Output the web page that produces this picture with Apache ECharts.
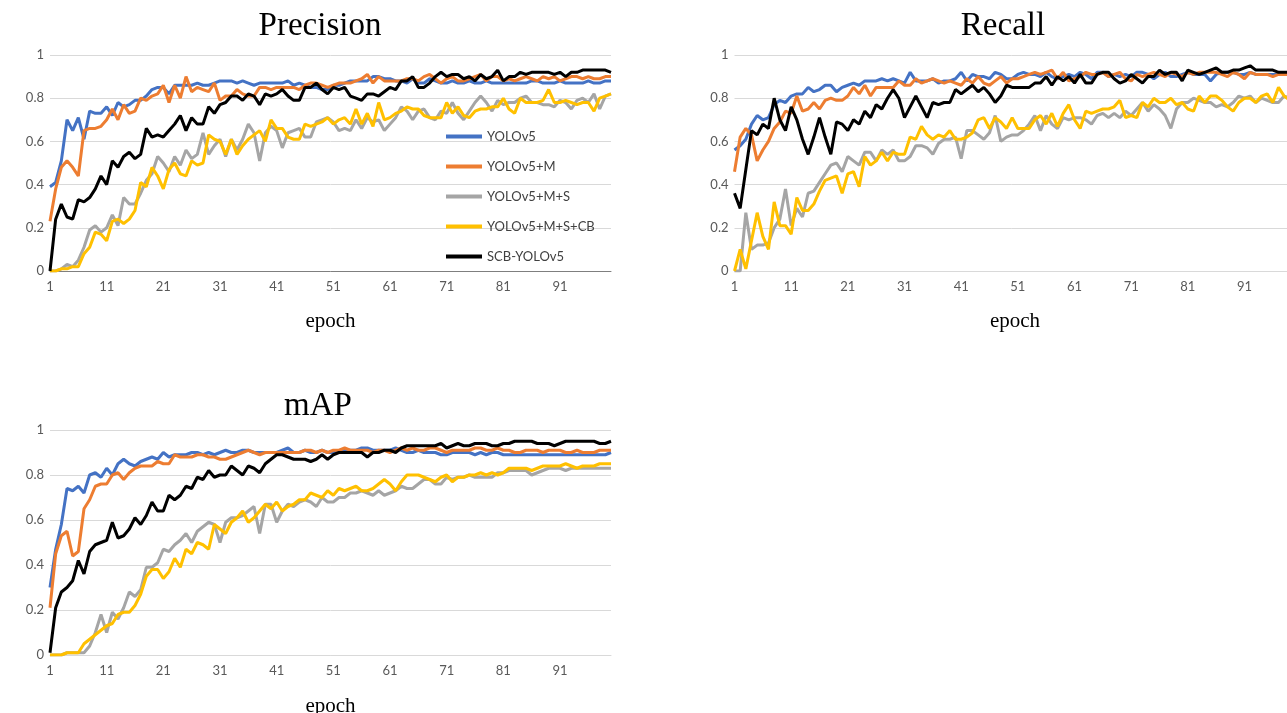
<!DOCTYPE html>
<html>
<head lang="en">
    <meta charset="UTF-8">
    <title>Precision / Recall / mAP</title>
    <script src="https://cdn.jsdelivr.net/npm/echarts@6/dist/echarts.min.js"></script>
    <style>
        html, body { margin: 0; padding: 0; background: #fff; }
        #main { width: 1287px; height: 713px; }
    </style>
</head>
<body>
<div id="main"></div>
<script>
    // epochs 1..100 on the category axis
    var epochs = [];
    for (var i = 1; i <= 100; i++) epochs.push(String(i));

    var seriesNames = ['YOLOv5', 'YOLOv5+M', 'YOLOv5+M+S', 'YOLOv5+M+S+CB', 'SCB-YOLOv5'];
    var seriesColors = ['#4472C4', '#ED7D31', '#A5A5A5', '#FFC000', '#000000'];

    // ---- Precision ----
    var precisionV5 = [
        0.39,0.41,0.51,0.70,0.65,0.71,0.61,0.74,0.73,0.73,
        0.76,0.72,0.78,0.76,0.77,0.79,0.79,0.81,0.84,0.85,
        0.85,0.82,0.86,0.86,0.86,0.86,0.87,0.86,0.86,0.87,
        0.88,0.88,0.88,0.87,0.88,0.87,0.86,0.87,0.87,0.87,
        0.87,0.87,0.88,0.86,0.87,0.86,0.85,0.85,0.84,0.84,
        0.86,0.86,0.87,0.88,0.88,0.88,0.88,0.90,0.90,0.89,
        0.89,0.88,0.88,0.87,0.89,0.87,0.87,0.89,0.88,0.87,
        0.87,0.88,0.87,0.87,0.88,0.87,0.87,0.88,0.87,0.87,
        0.87,0.87,0.87,0.87,0.87,0.88,0.88,0.87,0.87,0.87,
        0.88,0.87,0.87,0.87,0.87,0.88,0.87,0.87,0.88,0.88
    ];
    var precisionM = [
        0.23,0.38,0.48,0.51,0.48,0.44,0.65,0.66,0.66,0.67,
        0.70,0.75,0.70,0.77,0.73,0.74,0.80,0.79,0.81,0.82,
        0.86,0.78,0.86,0.80,0.90,0.83,0.85,0.84,0.83,0.87,
        0.79,0.81,0.81,0.84,0.82,0.81,0.81,0.85,0.85,0.84,
        0.85,0.85,0.85,0.85,0.84,0.86,0.87,0.87,0.86,0.85,
        0.86,0.87,0.87,0.87,0.88,0.89,0.91,0.87,0.90,0.88,
        0.88,0.88,0.88,0.89,0.89,0.88,0.90,0.91,0.89,0.87,
        0.89,0.90,0.88,0.88,0.89,0.90,0.91,0.88,0.90,0.90,
        0.88,0.89,0.88,0.89,0.90,0.89,0.88,0.90,0.89,0.90,
        0.88,0.89,0.90,0.90,0.89,0.90,0.89,0.89,0.90,0.90
    ];
    var precisionMS = [
        0.00,0.00,0.01,0.03,0.02,0.05,0.11,0.19,0.21,0.18,
        0.20,0.26,0.21,0.34,0.31,0.31,0.36,0.42,0.45,0.53,
        0.50,0.46,0.53,0.49,0.56,0.52,0.54,0.64,0.54,0.58,
        0.61,0.53,0.61,0.56,0.61,0.68,0.64,0.51,0.64,0.67,
        0.65,0.57,0.64,0.65,0.66,0.62,0.62,0.69,0.70,0.71,
        0.69,0.65,0.66,0.65,0.70,0.66,0.71,0.69,0.70,0.65,
        0.68,0.71,0.76,0.74,0.70,0.74,0.75,0.71,0.70,0.74,
        0.73,0.78,0.73,0.70,0.74,0.78,0.81,0.78,0.74,0.79,
        0.77,0.78,0.78,0.80,0.81,0.78,0.78,0.77,0.77,0.76,
        0.79,0.78,0.75,0.79,0.80,0.78,0.82,0.75,0.81,0.82
    ];
    var precisionMSCB = [
        0.00,0.00,0.01,0.01,0.02,0.02,0.08,0.11,0.18,0.17,
        0.14,0.23,0.24,0.22,0.24,0.28,0.41,0.39,0.48,0.44,
        0.38,0.47,0.50,0.45,0.44,0.51,0.49,0.50,0.63,0.61,
        0.60,0.54,0.61,0.54,0.58,0.61,0.63,0.65,0.60,0.70,
        0.66,0.66,0.62,0.61,0.61,0.68,0.67,0.68,0.69,0.71,
        0.68,0.70,0.71,0.68,0.75,0.68,0.73,0.67,0.78,0.70,
        0.71,0.73,0.74,0.76,0.75,0.75,0.72,0.71,0.71,0.71,
        0.78,0.73,0.76,0.72,0.71,0.74,0.75,0.75,0.76,0.76,
        0.80,0.75,0.73,0.80,0.78,0.78,0.78,0.79,0.84,0.78,
        0.78,0.79,0.78,0.77,0.78,0.78,0.74,0.80,0.81,0.82
    ];
    var precisionSCB = [
        0.00,0.24,0.31,0.25,0.24,0.33,0.32,0.34,0.38,0.44,
        0.40,0.51,0.48,0.53,0.55,0.52,0.54,0.66,0.62,0.63,
        0.62,0.65,0.68,0.72,0.65,0.71,0.68,0.68,0.76,0.73,
        0.77,0.78,0.81,0.81,0.79,0.82,0.81,0.77,0.82,0.81,
        0.82,0.84,0.81,0.79,0.79,0.85,0.85,0.87,0.84,0.82,
        0.85,0.84,0.85,0.81,0.80,0.79,0.82,0.82,0.81,0.83,
        0.85,0.84,0.88,0.88,0.90,0.85,0.85,0.87,0.90,0.92,
        0.90,0.91,0.91,0.89,0.90,0.88,0.91,0.89,0.90,0.93,
        0.88,0.90,0.90,0.92,0.91,0.92,0.92,0.92,0.92,0.91,
        0.92,0.90,0.92,0.92,0.93,0.93,0.93,0.93,0.93,0.92
    ];

    // ---- Recall ----
    var recallV5 = [
        0.56,0.58,0.61,0.68,0.72,0.70,0.71,0.77,0.79,0.78,
        0.81,0.82,0.82,0.85,0.83,0.84,0.86,0.86,0.83,0.85,
        0.86,0.87,0.86,0.88,0.88,0.88,0.89,0.88,0.89,0.88,
        0.87,0.92,0.88,0.88,0.88,0.89,0.87,0.88,0.88,0.89,
        0.92,0.88,0.91,0.90,0.90,0.89,0.92,0.91,0.89,0.89,
        0.91,0.92,0.91,0.91,0.90,0.92,0.90,0.89,0.90,0.91,
        0.90,0.92,0.91,0.89,0.92,0.92,0.90,0.91,0.90,0.91,
        0.90,0.92,0.92,0.91,0.89,0.91,0.92,0.90,0.90,0.91,
        0.92,0.91,0.91,0.91,0.88,0.91,0.92,0.92,0.92,0.91,
        0.91,0.92,0.91,0.91,0.91,0.91,0.91,0.91,0.91,0.91
    ];
    var recallM = [
        0.46,0.62,0.66,0.63,0.51,0.56,0.60,0.66,0.69,0.74,
        0.73,0.81,0.74,0.75,0.78,0.75,0.79,0.80,0.79,0.79,
        0.81,0.85,0.82,0.86,0.81,0.85,0.85,0.85,0.85,0.88,
        0.86,0.86,0.89,0.87,0.88,0.89,0.88,0.87,0.88,0.87,
        0.86,0.89,0.87,0.90,0.87,0.86,0.88,0.90,0.87,0.89,
        0.89,0.90,0.91,0.92,0.91,0.92,0.93,0.89,0.92,0.88,
        0.89,0.90,0.92,0.91,0.91,0.92,0.90,0.91,0.92,0.89,
        0.88,0.91,0.90,0.91,0.92,0.91,0.90,0.92,0.91,0.90,
        0.92,0.91,0.92,0.92,0.92,0.92,0.91,0.90,0.92,0.91,
        0.89,0.92,0.91,0.91,0.91,0.90,0.91,0.91,0.91,0.91
    ];
    var recallMS = [
        0.00,0.00,0.27,0.10,0.12,0.12,0.13,0.20,0.24,0.38,
        0.21,0.29,0.25,0.36,0.37,0.41,0.45,0.49,0.50,0.46,
        0.53,0.51,0.49,0.55,0.55,0.51,0.56,0.54,0.56,0.51,
        0.51,0.53,0.58,0.58,0.57,0.54,0.59,0.61,0.61,0.62,
        0.52,0.65,0.65,0.63,0.61,0.64,0.72,0.60,0.62,0.63,
        0.63,0.65,0.68,0.72,0.65,0.72,0.68,0.66,0.71,0.70,
        0.71,0.71,0.70,0.68,0.72,0.73,0.71,0.73,0.71,0.74,
        0.72,0.75,0.78,0.74,0.77,0.75,0.72,0.66,0.75,0.78,
        0.78,0.80,0.79,0.78,0.78,0.76,0.77,0.76,0.78,0.81,
        0.80,0.81,0.78,0.80,0.79,0.78,0.78,0.81,0.80,0.78
    ];
    var recallMSCB = [
        0.00,0.10,0.01,0.14,0.27,0.16,0.10,0.32,0.21,0.21,
        0.17,0.34,0.28,0.28,0.31,0.37,0.42,0.43,0.44,0.36,
        0.45,0.46,0.39,0.53,0.49,0.51,0.55,0.51,0.55,0.54,
        0.54,0.62,0.61,0.67,0.63,0.61,0.63,0.62,0.65,0.61,
        0.61,0.62,0.64,0.70,0.71,0.66,0.71,0.69,0.66,0.71,
        0.66,0.66,0.66,0.70,0.72,0.68,0.73,0.67,0.73,0.77,
        0.70,0.66,0.74,0.73,0.74,0.75,0.75,0.76,0.79,0.71,
        0.72,0.71,0.78,0.76,0.80,0.78,0.78,0.80,0.77,0.78,
        0.75,0.74,0.81,0.78,0.81,0.81,0.79,0.76,0.74,0.78,
        0.80,0.80,0.78,0.81,0.82,0.78,0.85,0.81,0.79,0.80
    ];
    var recallSCB = [
        0.36,0.29,0.47,0.65,0.63,0.68,0.66,0.80,0.70,0.65,
        0.76,0.70,0.61,0.54,0.62,0.71,0.62,0.54,0.69,0.68,
        0.65,0.70,0.68,0.74,0.71,0.77,0.75,0.80,0.84,0.80,
        0.71,0.76,0.81,0.76,0.71,0.78,0.77,0.78,0.78,0.84,
        0.82,0.84,0.86,0.83,0.85,0.82,0.78,0.81,0.86,0.85,
        0.85,0.85,0.85,0.87,0.87,0.90,0.86,0.90,0.88,0.90,
        0.87,0.91,0.87,0.87,0.91,0.92,0.92,0.89,0.87,0.88,
        0.91,0.89,0.87,0.90,0.90,0.93,0.91,0.92,0.92,0.88,
        0.93,0.92,0.91,0.92,0.93,0.94,0.92,0.92,0.93,0.93,
        0.94,0.95,0.93,0.93,0.93,0.93,0.92,0.92,0.92,0.92
    ];

    // ---- mAP ----
    var mapV5 = [
        0.30,0.47,0.58,0.74,0.73,0.75,0.72,0.80,0.81,0.79,
        0.83,0.80,0.85,0.87,0.85,0.84,0.86,0.87,0.88,0.87,
        0.90,0.88,0.89,0.89,0.89,0.90,0.90,0.89,0.90,0.89,
        0.90,0.91,0.90,0.90,0.91,0.91,0.90,0.90,0.90,0.90,
        0.90,0.91,0.92,0.90,0.90,0.91,0.90,0.90,0.91,0.90,
        0.90,0.90,0.91,0.91,0.91,0.92,0.92,0.91,0.91,0.91,
        0.91,0.92,0.91,0.90,0.90,0.91,0.90,0.90,0.90,0.89,
        0.89,0.90,0.90,0.90,0.90,0.89,0.90,0.89,0.90,0.90,
        0.89,0.89,0.89,0.89,0.89,0.89,0.89,0.89,0.89,0.89,
        0.89,0.89,0.89,0.89,0.89,0.89,0.89,0.89,0.89,0.90
    ];
    var mapM = [
        0.21,0.45,0.53,0.55,0.44,0.46,0.65,0.69,0.75,0.76,
        0.76,0.80,0.81,0.78,0.81,0.83,0.84,0.84,0.84,0.86,
        0.85,0.85,0.89,0.88,0.88,0.88,0.89,0.89,0.88,0.88,
        0.87,0.87,0.88,0.89,0.90,0.91,0.90,0.89,0.90,0.90,
        0.90,0.90,0.90,0.90,0.90,0.91,0.91,0.90,0.91,0.90,
        0.91,0.91,0.92,0.91,0.91,0.91,0.91,0.90,0.91,0.91,
        0.90,0.91,0.92,0.91,0.92,0.91,0.91,0.92,0.92,0.91,
        0.90,0.91,0.91,0.91,0.91,0.92,0.92,0.91,0.91,0.92,
        0.91,0.91,0.90,0.90,0.91,0.91,0.91,0.90,0.91,0.91,
        0.91,0.90,0.90,0.91,0.90,0.90,0.90,0.91,0.91,0.91
    ];
    var mapMS = [
        0.00,0.00,0.00,0.01,0.01,0.01,0.01,0.04,0.10,0.18,
        0.10,0.19,0.16,0.21,0.28,0.26,0.29,0.39,0.39,0.41,
        0.47,0.46,0.49,0.51,0.54,0.50,0.55,0.57,0.59,0.58,
        0.50,0.59,0.61,0.61,0.62,0.64,0.66,0.54,0.67,0.67,
        0.59,0.64,0.67,0.66,0.68,0.69,0.68,0.66,0.70,0.68,
        0.68,0.70,0.70,0.72,0.72,0.73,0.72,0.71,0.73,0.71,
        0.72,0.73,0.75,0.74,0.74,0.76,0.78,0.78,0.76,0.76,
        0.79,0.78,0.79,0.79,0.80,0.79,0.79,0.79,0.79,0.81,
        0.81,0.82,0.82,0.82,0.82,0.80,0.81,0.82,0.83,0.83,
        0.83,0.82,0.83,0.83,0.83,0.83,0.83,0.83,0.83,0.83
    ];
    var mapMSCB = [
        0.00,0.00,0.00,0.01,0.01,0.01,0.05,0.07,0.09,0.11,
        0.13,0.14,0.18,0.19,0.19,0.22,0.27,0.35,0.38,0.38,
        0.34,0.37,0.43,0.39,0.47,0.45,0.50,0.49,0.47,0.58,
        0.56,0.54,0.59,0.61,0.64,0.59,0.61,0.64,0.67,0.65,
        0.68,0.64,0.66,0.67,0.69,0.69,0.72,0.71,0.70,0.73,
        0.71,0.74,0.73,0.74,0.75,0.73,0.73,0.74,0.76,0.78,
        0.76,0.73,0.77,0.80,0.80,0.80,0.79,0.78,0.77,0.79,
        0.80,0.77,0.79,0.79,0.80,0.80,0.81,0.80,0.81,0.80,
        0.81,0.83,0.83,0.83,0.83,0.82,0.83,0.84,0.84,0.84,
        0.84,0.85,0.84,0.83,0.84,0.84,0.84,0.85,0.85,0.85
    ];
    var mapSCB = [
        0.01,0.21,0.28,0.30,0.33,0.42,0.36,0.46,0.49,0.50,
        0.51,0.59,0.52,0.53,0.56,0.61,0.58,0.62,0.68,0.64,
        0.64,0.71,0.69,0.71,0.75,0.74,0.79,0.78,0.82,0.79,
        0.80,0.80,0.84,0.82,0.80,0.84,0.83,0.81,0.85,0.87,
        0.89,0.89,0.88,0.87,0.87,0.87,0.86,0.87,0.89,0.87,
        0.89,0.90,0.90,0.90,0.90,0.90,0.88,0.90,0.90,0.91,
        0.91,0.90,0.92,0.93,0.93,0.93,0.93,0.93,0.93,0.94,
        0.92,0.93,0.94,0.93,0.93,0.94,0.94,0.94,0.93,0.93,
        0.94,0.94,0.95,0.95,0.95,0.95,0.94,0.94,0.94,0.93,
        0.94,0.95,0.95,0.95,0.95,0.95,0.95,0.94,0.94,0.95
    ];

    var panels = [
        { title: 'Precision', data: [precisionV5, precisionM, precisionMS, precisionMSCB, precisionSCB],
          grid: { left: 50, top: 55, width: 561, height: 216, outerBoundsMode: 'none' }, titleX: 320, titleY: 10, nameGap: 40, axisColor: '#7f7f7f' },
        { title: 'Recall', data: [recallV5, recallM, recallMS, recallMSCB, recallSCB],
          grid: { left: 734.5, top: 55, width: 561, height: 216, outerBoundsMode: 'none' }, titleX: 1003, titleY: 10, nameGap: 40, axisColor: '#d9d9d9' },
        { title: 'mAP', data: [mapV5, mapM, mapMS, mapMSCB, mapSCB],
          grid: { left: 50, top: 430, width: 561, height: 225, outerBoundsMode: 'none' }, titleX: 318, titleY: 390, nameGap: 41, axisColor: '#d9d9d9' }
    ];

    var titles = [], grids = [], xAxes = [], yAxes = [], series = [];
    panels.forEach(function (p, k) {
        titles.push({
            text: p.title, left: p.titleX, top: p.titleY, textAlign: 'center', padding: 0,
            textStyle: { fontFamily: 'Liberation Serif', fontSize: 33, fontWeight: 'normal', color: '#000' }
        });
        grids.push(p.grid);
        xAxes.push({
            gridIndex: k, type: 'category', boundaryGap: false, data: epochs,
            name: 'epoch', nameLocation: 'middle', nameGap: p.nameGap,
            nameTextStyle: { fontFamily: 'Liberation Serif', fontSize: 21, color: '#000' },
            axisLine: { lineStyle: { color: p.axisColor, width: 1 } },
            axisTick: { show: false },
            axisLabel: { interval: 9, margin: 9, fontFamily: 'Lato', fontSize: 13, color: '#595959' },
            splitLine: { show: false }
        });
        yAxes.push({
            gridIndex: k, type: 'value', min: 0, max: 1, interval: 0.2,
            axisLine: { show: false }, axisTick: { show: false },
            axisLabel: { margin: 6, fontFamily: 'Lato', fontSize: 13, color: '#595959' },
            splitLine: { lineStyle: { color: '#d9d9d9', width: 1 } }
        });
        p.data.forEach(function (vals, j) {
            series.push({
                name: seriesNames[j], type: 'line', xAxisIndex: k, yAxisIndex: k,
                data: vals, showSymbol: false, symbol: 'none',
                lineStyle: { width: 3, color: seriesColors[j] },
                itemStyle: { color: seriesColors[j] }
            });
        });
    });

    var myChart = echarts.init(document.getElementById('main'));
    myChart.setOption({
        animation: false,
        title: titles,
        legend: {
            data: seriesNames, orient: 'vertical', left: 446, top: 130, padding: 0,
            icon: 'rect', itemWidth: 36, itemHeight: 4, itemGap: 17,
            textStyle: { fontFamily: 'Lato', fontSize: 13, color: '#404040' }
        },
        grid: grids,
        xAxis: xAxes,
        yAxis: yAxes,
        series: series
    });
</script>
</body>
</html>
